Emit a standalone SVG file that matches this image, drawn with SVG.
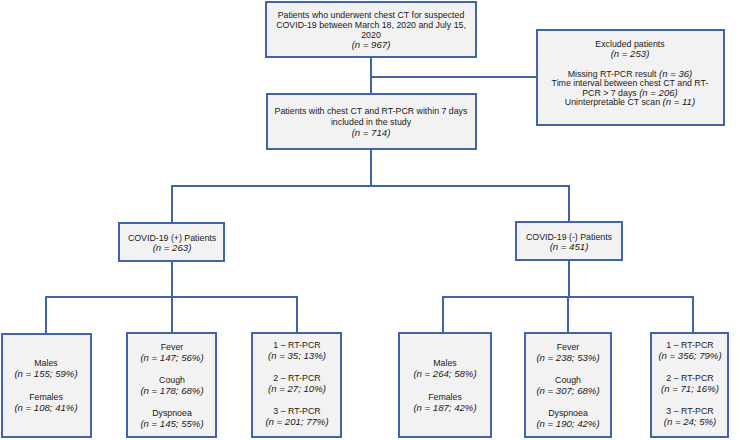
<svg xmlns="http://www.w3.org/2000/svg" width="740" height="440" viewBox="0 0 740 440">
<style>
.box{fill:#f2f2f2;stroke:#4064ac;stroke-width:2}
.ln{fill:none;stroke:#4064ac;stroke-width:2}
text{font-family:"Liberation Sans",Arial,sans-serif;font-size:8.8px;fill:#1a1a1a;text-anchor:middle}
.i{font-style:italic;font-size:9.6px}
</style>
<rect width="740" height="440" fill="#ffffff"/>
<g id="connectors">
<path class="ln" d="M371,57 V94"/>
<path class="ln" d="M371,77 H537"/>
<path class="ln" d="M371,149 V186"/>
<path class="ln" d="M172,223 V186 H569 V222"/>
<path class="ln" d="M172,261 V297"/>
<path class="ln" d="M46,334 V297 H297 V333"/>
<path class="ln" d="M172,297 V333"/>
<path class="ln" d="M569,260 V297"/>
<path class="ln" d="M443,333 V297 H693 V333"/>
<path class="ln" d="M568,297 V333"/>
</g>
<g id="screened">
<rect class="box" x="266" y="2" width="210" height="55"/>
<text x="371" y="18">Patients who underwent chest CT for suspected</text>
<text x="371" y="28">COVID-19 between March 18, 2020 and July 15,</text>
<text x="371" y="38">2020</text>
<text x="371" y="48" class="i">(n = 967)</text>
</g>
<g id="excluded">
<rect class="box" x="537" y="30" width="187" height="95"/>
<text x="630" y="47">Excluded patients</text>
<text x="630" y="57" class="i">(n = 253)</text>
<text x="630" y="77">Missing RT-PCR result <tspan class="i">(n = 36)</tspan></text>
<text x="630" y="86">Time interval between chest CT and RT-</text>
<text x="630" y="96">PCR &gt; 7 days <tspan class="i">(n = 206)</tspan></text>
<text x="630" y="105">Uninterpretable CT scan <tspan class="i">(n = 11)</tspan></text>
</g>
<g id="included">
<rect class="box" x="267" y="94" width="209" height="55"/>
<text x="371" y="114">Patients with chest CT and RT-PCR within 7 days</text>
<text x="371" y="125">included in the study</text>
<text x="371" y="136" class="i">(n = 714)</text>
</g>
<g id="covid-pos">
<rect class="box" x="119" y="223" width="105" height="38"/>
<text x="172" y="241">COVID-19 (+) Patients</text>
<text x="172" y="251" class="i">(n = 263)</text>
</g>
<g id="covid-neg">
<rect class="box" x="516" y="222" width="106" height="38"/>
<text x="569" y="240">COVID-19 (-) Patients</text>
<text x="569" y="250" class="i">(n = 451)</text>
</g>
<g id="pos-sex">
<rect class="box" x="2" y="334" width="89" height="103"/>
<text x="46" y="366">Males</text>
<text x="46" y="377" class="i">(n = 155; 59%)</text>
<text x="46" y="400">Females</text>
<text x="46" y="411" class="i">(n = 108; 41%)</text>
</g>
<g id="pos-symptoms">
<rect class="box" x="127" y="333" width="89" height="104"/>
<text x="172" y="350">Fever</text>
<text x="172" y="361" class="i">(n = 147; 56%)</text>
<text x="172" y="383">Cough</text>
<text x="172" y="394" class="i">(n = 178; 68%)</text>
<text x="172" y="416">Dyspnoea</text>
<text x="172" y="427" class="i">(n = 145; 55%)</text>
</g>
<g id="pos-rtpcr">
<rect class="box" x="252" y="333" width="89" height="104"/>
<text x="297" y="348">1 – RT-PCR</text>
<text x="297" y="359" class="i">(n = 35; 13%)</text>
<text x="297" y="381">2 – RT-PCR</text>
<text x="297" y="392" class="i">(n = 27; 10%)</text>
<text x="297" y="414">3 – RT-PCR</text>
<text x="297" y="425" class="i">(n = 201; 77%)</text>
</g>
<g id="neg-sex">
<rect class="box" x="399" y="333" width="92" height="104"/>
<text x="445" y="366">Males</text>
<text x="445" y="377" class="i">(n = 264; 58%)</text>
<text x="445" y="400">Females</text>
<text x="445" y="411" class="i">(n = 187; 42%)</text>
</g>
<g id="neg-symptoms">
<rect class="box" x="525" y="333" width="86" height="104"/>
<text x="568" y="350">Fever</text>
<text x="568" y="361" class="i">(n = 238; 53%)</text>
<text x="568" y="383">Cough</text>
<text x="568" y="394" class="i">(n = 307; 68%)</text>
<text x="568" y="416">Dyspnoea</text>
<text x="568" y="427" class="i">(n = 190; 42%)</text>
</g>
<g id="neg-rtpcr">
<rect class="box" x="651" y="333" width="77" height="104"/>
<text x="690" y="348">1 – RT-PCR</text>
<text x="690" y="359" class="i">(n = 356; 79%)</text>
<text x="690" y="381">2 – RT-PCR</text>
<text x="690" y="392" class="i">(n = 71; 16%)</text>
<text x="690" y="414">3 – RT-PCR</text>
<text x="690" y="425" class="i">(n = 24; 5%)</text>
</g>
</svg>
